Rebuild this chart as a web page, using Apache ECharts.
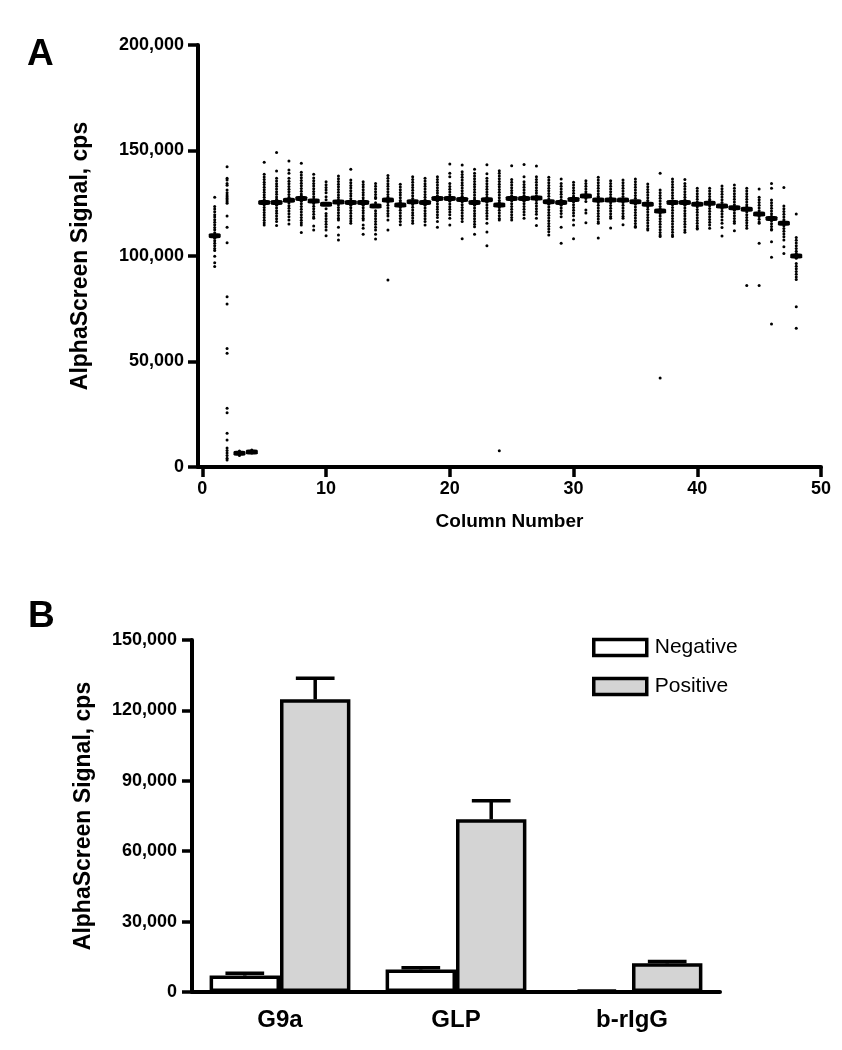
<!DOCTYPE html>
<html><head><meta charset="utf-8">
<script src="https://cdn.jsdelivr.net/npm/echarts@6/dist/echarts.min.js"></script>
<style>html,body{margin:0;padding:0;background:#fff}#c{width:842px;height:1050px}</style>
</head><body><div id="c"></div>
<script>
// ---------- Panel A data (AlphaScreen signal, thousands of cps) ----------
const columnNumbers = [1,2,3,4,5,6,7,8,9,10,11,12,13,14,15,16,17,18,19,20,21,22,23,24,25,26,27,28,29,30,31,32,33,34,35,36,37,38,39,40,41,42,43,44,45,46,47,48];
const columnMeansK = [109.6,null,6.5,7.1,125.4,125.3,126.4,127.3,126.1,124.5,125.6,125.4,125.4,123.7,126.5,124.2,125.7,125.3,127.3,127.2,126.8,125.3,126.7,124.2,127.3,127.2,127.5,125.7,125.3,126.8,128.4,126.5,126.5,126.5,125.7,124.5,121.3,125.3,125.3,124.5,125.0,123.7,122.9,122.1,119.9,117.8,115.5,100.0];
const columnDotsK = [
 [127.8,123.5,122.3,121.0,119.6,118.5,117.2,116.0,114.8,113.5,112.4,111.0,108.4,107.2,106.0,104.8,103.5,102.6,99.9,96.8,95.0],
 [142.3,136.8,136.0,134.4,133.5,131.3,130.0,128.9,128.1,127.3,126.5,125.7,125.0,118.9,113.6,106.3,80.7,77.2,56.2,53.9,27.8,25.7,16.0,12.8,9.0,7.8,6.6,5.4,4.2,3.3],
 [7.6,7.1,6.8,6.3,5.9,5.5],
 [8.1,7.7,7.3,6.9,6.6],
 [144.4,138.7,137.5,136.2,135.0,133.9,132.6,131.4,130.2,129.0,127.8,126.7,124.2,123.0,121.8,120.6,119.4,118.2,117.0,115.8,114.7],
 [149.0,140.3,136.8,135.5,134.3,133.0,131.8,130.5,129.3,128.0,126.9,124.0,122.8,121.5,120.3,119.0,117.6,116.3,114.4],
 [145.0,140.7,139.2,136.8,135.4,134.2,132.9,131.6,130.4,129.1,127.9,125.1,123.8,122.6,121.3,120.0,118.6,117.1,115.2],
 [143.9,139.7,138.4,137.1,135.8,134.5,133.3,132.0,130.7,129.4,128.5,126.0,124.8,123.5,122.2,120.9,119.6,118.3,117.0,115.8,114.7,111.1],
 [138.7,137.0,135.7,134.4,133.2,131.9,130.6,129.4,128.1,126.9,124.9,123.6,122.4,121.1,119.8,118.5,117.9,114.2,112.3],
 [135.2,133.8,132.5,131.3,130.0,128.1,126.6,122.4,120.2,119.0,117.7,116.4,115.1,113.8,112.3,109.6],
 [137.9,136.6,135.3,134.0,132.8,131.5,130.2,128.9,127.7,126.5,124.3,123.0,121.8,120.5,119.2,117.9,117.1,113.6,109.9,107.6],
 [141.1,136.0,134.7,133.4,132.2,130.9,129.6,128.4,127.1,124.1,122.9,121.6,120.3,119.0,117.8,116.6,115.5],
 [135.2,133.9,132.7,131.4,130.1,128.9,127.6,126.4,124.1,122.9,121.6,120.4,119.1,117.9,117.1,114.7,113.1,110.3],
 [134.4,133.1,131.8,130.5,129.2,127.9,127.3,125.2,121.5,120.2,118.9,117.6,116.3,115.0,113.6,112.3,110.3,108.0],
 [138.1,136.8,135.6,134.3,133.0,131.8,130.5,129.2,128.0,127.5,125.3,124.0,122.7,121.5,120.2,118.9,117.1,112.3,88.6],
 [134.0,132.7,131.4,130.1,128.9,127.6,126.3,125.5,123.0,121.7,120.4,119.1,117.8,116.3,114.8],
 [137.6,136.3,135.0,133.7,132.5,131.2,129.9,128.6,127.3,124.4,123.1,121.8,120.5,119.3,118.0,116.7,115.5],
 [136.8,135.5,134.2,133.0,131.7,130.4,129.1,127.8,126.6,124.1,122.8,121.5,120.2,119.0,117.7,116.4,114.7],
 [137.6,136.3,135.0,133.7,132.4,131.1,129.8,128.6,126.0,124.7,123.4,122.1,120.8,119.5,118.2,116.3,113.6],
 [143.6,139.2,137.6,134.4,132.9,131.6,130.3,129.0,127.8,126.0,124.7,123.4,122.1,120.8,119.5,117.9,114.7],
 [143.1,139.9,138.6,137.3,136.0,134.7,133.5,132.2,130.9,129.6,128.3,125.6,124.3,123.0,121.7,120.4,119.1,117.8,116.3,108.2],
 [141.1,139.2,137.9,136.6,135.3,134.0,132.8,131.5,130.2,128.9,127.6,126.6,124.1,122.8,121.5,120.2,118.9,117.6,116.3,115.0,113.9,110.3],
 [143.3,139.0,136.8,135.5,134.2,132.9,131.6,130.3,129.1,127.8,125.5,124.2,122.9,121.6,120.3,119.0,117.7,115.5,111.4,104.9],
 [140.4,139.2,137.9,136.6,135.3,134.0,132.8,131.5,130.2,128.9,127.6,126.3,125.4,123.0,121.7,120.4,119.1,117.8,117.1,7.7],
 [142.8,136.3,135.0,133.7,132.4,131.1,129.9,128.6,126.1,124.8,123.5,122.2,120.9,119.6,118.3,117.1],
 [143.4,137.6,135.2,133.9,132.6,131.3,130.0,128.7,126.0,124.8,123.5,122.2,120.9,119.6,117.9],
 [142.6,137.6,136.3,135.0,133.7,132.4,131.1,129.9,128.6,126.3,125.0,123.7,122.4,121.1,119.8,117.9,114.4],
 [137.3,136.0,134.7,133.4,132.1,130.9,129.6,128.3,127.0,124.5,123.2,121.9,120.6,119.3,118.0,116.7,115.4,114.1,112.8,111.5,109.9],
 [136.5,134.4,133.1,131.8,130.5,129.3,128.0,126.7,124.1,122.8,121.5,120.2,118.6,113.6,106.0],
 [134.9,133.6,132.3,131.0,129.7,128.4,127.9,125.6,124.3,123.0,121.7,120.4,119.1,117.1,114.7,108.2],
 [135.7,134.4,133.1,131.8,130.5,129.5,127.2,125.8,121.8,120.4,115.8],
 [137.3,136.0,134.7,133.4,132.1,130.8,129.5,128.3,127.6,125.3,124.0,122.7,121.4,120.1,118.8,117.5,116.2,115.5,108.5],
 [135.7,134.4,133.1,131.8,130.5,129.2,127.9,125.2,123.9,122.6,121.3,120.0,118.7,117.9,113.3],
 [136.0,134.7,133.4,132.1,130.8,129.5,128.2,125.3,124.0,122.7,121.4,120.1,118.8,117.9,114.8],
 [136.5,135.2,133.9,132.6,131.3,130.0,128.7,127.4,124.5,123.2,121.9,120.6,119.3,118.0,116.7,115.4,114.1,113.6],
 [134.1,132.8,131.5,130.2,128.9,127.6,126.3,125.4,123.4,122.1,120.8,119.5,118.2,116.9,115.6,114.3,113.0,112.3],
 [139.2,131.3,130.0,128.7,127.4,126.1,124.8,123.5,122.4,120.2,118.9,117.6,116.3,115.0,113.7,112.4,111.1,109.9,109.2,42.2],
 [136.5,135.2,133.9,132.6,131.3,130.0,128.7,127.4,126.1,124.3,123.0,121.7,120.4,119.1,117.8,116.5,115.2,113.9,112.6,111.3,110.0,109.2],
 [136.3,134.4,133.1,131.8,130.5,129.2,127.9,126.6,124.1,122.8,121.5,120.2,118.9,117.6,116.3,115.0,113.7,112.3,111.2],
 [132.1,130.8,129.5,128.2,126.9,125.6,123.3,122.0,120.7,119.4,118.1,116.8,115.5,114.2,113.1,112.8],
 [132.1,130.8,129.5,128.2,126.9,126.2,123.8,122.5,121.2,119.9,118.6,117.3,116.0,114.7,113.1],
 [133.2,131.9,130.6,129.3,128.0,126.7,125.4,122.5,121.2,119.9,118.6,117.1,115.5,113.5,109.5],
 [133.6,132.1,130.8,129.5,128.2,126.9,125.6,124.3,121.7,120.4,119.1,117.8,116.5,115.5,112.0],
 [132.1,130.8,129.5,128.2,126.9,125.6,124.3,123.3,120.9,119.6,118.3,117.0,115.7,114.4,113.1,86.0],
 [131.7,127.9,126.6,125.3,124.0,122.7,121.4,118.7,117.4,116.1,115.5,106.0,86.0],
 [134.4,132.1,126.5,125.2,123.9,122.6,121.3,120.0,118.8,116.6,115.3,114.0,112.7,112.3,106.8,99.4,67.8],
 [132.5,123.7,122.4,121.1,119.8,118.5,117.2,116.5,114.3,113.0,111.7,110.4,109.1,107.6,104.4,101.2],
 [119.9,108.8,107.5,106.2,104.9,103.6,102.3,101.2,100.5,98.9,96.5,95.2,93.9,92.6,91.3,90.0,88.9,76.0,65.7]
];
const xTicksA = [0,10,20,30,40,50];

// ---------- Panel B data ----------
const categoriesB = ['G9a','GLP','b-rIgG'];
const negativeMean = [7000, 9600, 300];
const negativeErr  = [1000, 700, 100];
const positiveMean = [124700, 73600, 12200];
const positiveErr  = [9000, 7900, 800];

const FONT = 'Liberation Sans, Arial, sans-serif';
const fmt = v => Number(v).toLocaleString('en-US');

const dotData = [];
columnDotsK.forEach((arr, i) => arr.forEach(v => dotData.push([columnNumbers[i], v * 1000])));
const meanData = [];
columnMeansK.forEach((m, i) => { if (m !== null) meanData.push([columnNumbers[i], m * 1000]); });

function errRender(sign) {
  return function (params, api) {
    const cat = api.value(0), mean = api.value(1), err = api.value(2);
    const band = api.size([1, 0])[0];
    const off = sign * band * 0.2;
    const capHalf = band * 0.11;
    const base = api.coord([cat, mean]);
    const top = api.coord([cat, mean + err]);
    const x = base[0] + off;
    const st = { stroke: '#000', lineWidth: 3.5 };
    return { type: 'group', children: [
      { type: 'line', shape: { x1: x, y1: base[1], x2: x, y2: top[1] }, style: st },
      { type: 'line', shape: { x1: x - capHalf, y1: top[1], x2: x + capHalf, y2: top[1] }, style: st }
    ]};
  };
}

const axisLineStyle = { color: '#000', width: 4 };
const tickStyle = { color: '#000', width: 3.5 };
const labelBase = { color: '#000', fontFamily: FONT, fontWeight: 'bold', fontSize: 18 };

const chart = echarts.init(document.getElementById('c'), null, { renderer: 'canvas' });
chart.setOption({
  animation: false,
  backgroundColor: '#fff',
  title: [
    { text: 'A', left: 27, top: 36, padding: 0, textStyle: { fontSize: 37, fontWeight: 'bold', fontFamily: FONT, color: '#000' } },
    { text: 'B', left: 28, top: 598, padding: 0, textStyle: { fontSize: 37, fontWeight: 'bold', fontFamily: FONT, color: '#000' } }
  ],
  legend: {
    orient: 'vertical', left: 587, top: 632, itemWidth: 53, itemHeight: 16, itemGap: 18,
    icon: 'rect',
    textStyle: { fontSize: 21, fontFamily: FONT, color: '#000', padding: [0, 0, 0, 3] },
    data: [
      { name: 'Negative', itemStyle: { color: '#fff', borderColor: '#000', borderWidth: 3.5 } },
      { name: 'Positive', itemStyle: { color: '#d4d4d4', borderColor: '#000', borderWidth: 3.5 } }
    ]
  },
  grid: [
    { left: 198, top: 45, width: 623, height: 422 },
    { left: 192, top: 640, width: 528, height: 352 }
  ],
  xAxis: [
    { gridIndex: 0, type: 'value', min: -0.35, max: 50,
      axisLine: { onZero: false, lineStyle: axisLineStyle },
      axisTick: { customValues: xTicksA, length: 10, lineStyle: tickStyle },
      axisLabel: Object.assign({ customValues: xTicksA, margin: 13 }, labelBase),
      splitLine: { show: false },
      name: 'Column Number', nameLocation: 'middle', nameGap: 45,
      nameTextStyle: { fontSize: 19, fontWeight: 'bold', fontFamily: FONT, color: '#000' } },
    { gridIndex: 1, type: 'category', data: categoriesB,
      axisLine: { onZero: false, lineStyle: axisLineStyle },
      axisTick: { alignWithLabel: true, length: 10, lineStyle: tickStyle },
      axisLabel: Object.assign({}, labelBase, { fontSize: 24, margin: 16 }) }
  ],
  yAxis: [
    { gridIndex: 0, type: 'value', min: 0, max: 200000, interval: 50000,
      axisLine: { show: true, onZero: false, lineStyle: axisLineStyle },
      axisTick: { show: true, length: 10, lineStyle: tickStyle },
      axisLabel: Object.assign({ margin: 14, formatter: fmt }, labelBase),
      splitLine: { show: false },
      name: 'AlphaScreen Signal, cps', nameLocation: 'middle', nameGap: 106, nameRotate: 90,
      nameTextStyle: { fontSize: 23, fontWeight: 'bold', fontFamily: FONT, color: '#000' } },
    { gridIndex: 1, type: 'value', min: 0, max: 150000, interval: 30000,
      axisLine: { show: true, onZero: false, lineStyle: axisLineStyle },
      axisTick: { show: true, length: 10, lineStyle: tickStyle },
      axisLabel: Object.assign({ margin: 15, formatter: fmt }, labelBase),
      splitLine: { show: false },
      name: 'AlphaScreen Signal, cps', nameLocation: 'middle', nameGap: 97, nameRotate: 90,
      nameTextStyle: { fontSize: 23, fontWeight: 'bold', fontFamily: FONT, color: '#000' } }
  ],
  series: [
    { type: 'scatter', xAxisIndex: 0, yAxisIndex: 0, data: dotData, symbol: 'circle', symbolSize: 3,
      itemStyle: { color: '#000', opacity: 1 }, silent: true },
    { type: 'scatter', xAxisIndex: 0, yAxisIndex: 0, data: meanData, symbol: 'roundRect', symbolSize: [12, 5],
      itemStyle: { color: '#000', opacity: 1 }, silent: true, z: 3 },
    { name: 'Negative', type: 'bar', xAxisIndex: 1, yAxisIndex: 1, data: negativeMean,
      barWidth: '40%', barGap: '0%',
      itemStyle: { color: '#fff', borderColor: '#000', borderWidth: 3.5 } },
    { name: 'Positive', type: 'bar', xAxisIndex: 1, yAxisIndex: 1, data: positiveMean,
      barWidth: '40%', barGap: '0%',
      itemStyle: { color: '#d4d4d4', borderColor: '#000', borderWidth: 3.5 } },
    { type: 'custom', xAxisIndex: 1, yAxisIndex: 1, renderItem: errRender(-1), z: 5, silent: true,
      data: negativeMean.map((m, i) => [i, m, negativeErr[i]]) },
    { type: 'custom', xAxisIndex: 1, yAxisIndex: 1, renderItem: errRender(1), z: 5, silent: true,
      data: positiveMean.map((m, i) => [i, m, positiveErr[i]]) }
  ]
});
</script></body></html>
